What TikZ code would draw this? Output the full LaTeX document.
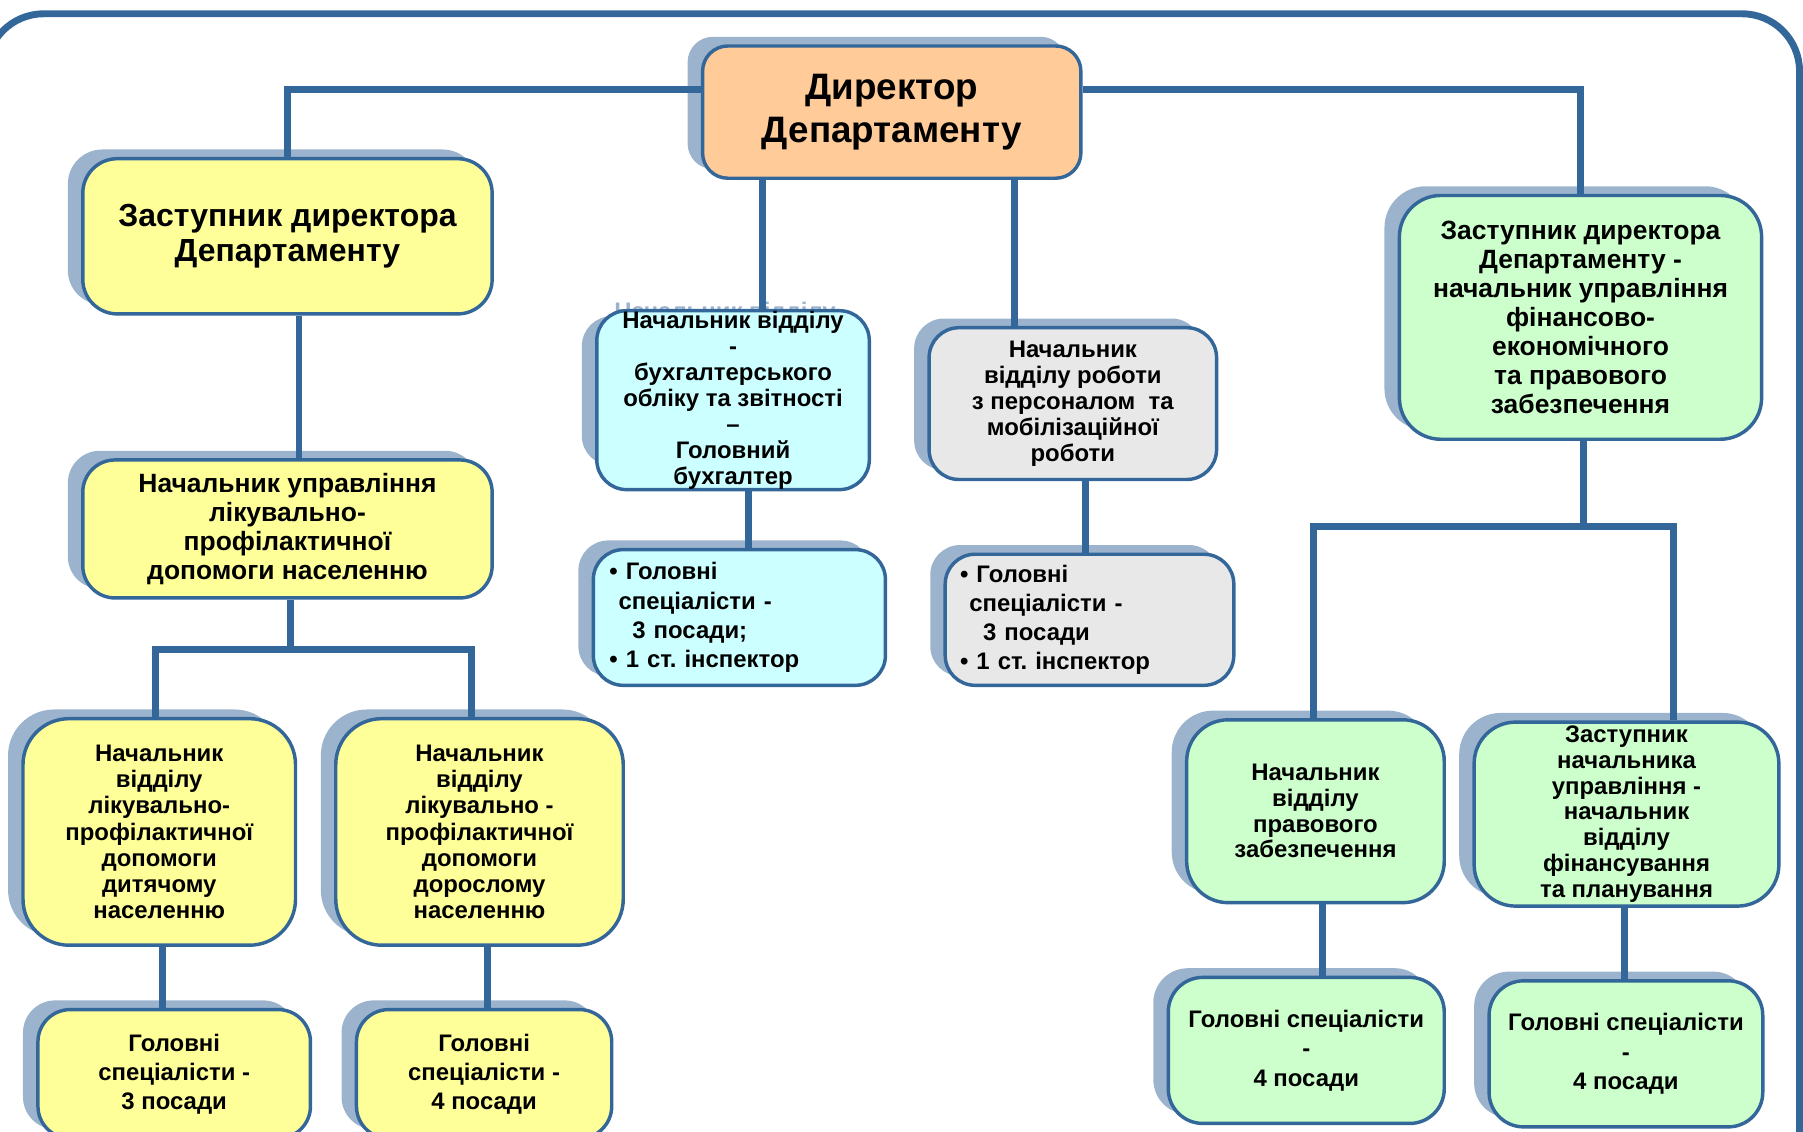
\documentclass[tikz,border=0pt]{standalone}
\usepackage{fontspec}
\setmainfont{Liberation Sans}
\frenchspacing
\definecolor{linec}{HTML}{336699}
\definecolor{shadowc}{HTML}{9BB3CD}
\definecolor{yellowc}{HTML}{FFFF99}
\definecolor{orangec}{HTML}{FFCC99}
\definecolor{cyanc}{HTML}{CCFFFF}
\definecolor{grayc}{HTML}{E8E8E8}
\definecolor{greenc}{HTML}{CCFFCC}
\newcommand\fs[2]{\bfseries\fontsize{#1}{#2}\selectfont}
\newcommand\shbox[6]{%
  \fill[shadowc, rounded corners=#6] ({#2-#4/2-13},{#3-#5/2-8}) rectangle ({#2+#4/2-13},{#3+#5/2-8});}
\tikzset{
  box/.style={draw=linec, line width=3pt, rounded corners=#1, inner sep=0pt, align=center, text=black},
  box/.default=28pt,
  conn/.style={draw=linec, line width=6pt},
}
\begin{document}
\begin{tikzpicture}[x=1pt,y=-1pt]
\useasboundingbox (0,0) rectangle (1568,984);
% frame
\draw[linec, line width=6pt, rounded corners=50pt] (-12,1100) -- (-12,12) -- (1565,12) -- (1565,1100);
\coordinate (j1) at (253,565);
\coordinate (j2) at (1377,458);
% shadows
\shbox{dir}{775.5}{97.5}{329}{115}{22pt}
\shbox{depL}{250}{205.5}{356}{135}{30pt}
\shbox{upr}{250}{460}{356}{120}{28pt}
\shbox{ch1}{138.5}{723.5}{237}{197}{40pt}
\shbox{ch2}{417}{723.5}{250}{197}{40pt}
\shbox{b1}{151.5}{934}{237}{112}{28pt}
\shbox{b2}{421}{934}{222}{112}{28pt}
\shbox{acc}{637.5}{348}{237}{130}{26pt}
\shbox{accs}{643}{537}{254}{118}{26pt}
\shbox{hr}{933}{351}{250}{132}{26pt}
\shbox{hrs}{947.5}{539}{251}{114}{26pt}
\shbox{depR}{1374.5}{276}{315}{212}{36pt}
\shbox{rc1}{1144}{705.5}{224}{159}{36pt}
\shbox{rc2}{1414.5}{708}{265}{160}{36pt}
\shbox{rb1}{1136}{913.5}{240}{127}{30pt}
\shbox{rb2}{1414}{916.5}{238}{127}{30pt}
% ghost text of the accounting box shadow
\node[text=shadowc, align=center, inner sep=0pt, font=\fs{20.8}{22.7}] at (630.5,341) {Начальник відділу\\-\\бухгалтерського\\обліку та звітності\\–\\Головний\\бухгалтер};
% boxes
\node[box=22pt, fill=orangec, minimum width=329pt, minimum height=115pt, font=\fs{32}{37}] (dir) at (775.5,97.5) {\raisebox{3pt}{Директор}\\\raisebox{3pt}{Департаменту}};
\node[box=30pt, fill=yellowc, minimum width=356pt, minimum height=135pt, font=\fs{27.8}{30}] (depL) at (250,205.5) {Заступник директора\\Департаменту};
\node[box=28pt, fill=yellowc, minimum width=356pt, minimum height=120pt, font=\fs{23}{25}] (upr) at (250,460) {Начальник управління\\лікувально-\\профілактичної\\допомоги населенню};
\node[box=40pt, fill=yellowc, minimum width=237pt, minimum height=197pt, font=\fs{20.8}{22.8}] (ch1) at (138.5,723.5) {Начальник\\відділу\\лікувально-\\профілактичної\\допомоги\\дитячому\\населенню};
\node[box=40pt, fill=yellowc, minimum width=250pt, minimum height=197pt, font=\fs{20.8}{22.8}] (ch2) at (417,723.5) {Начальник\\відділу\\лікувально -\\профілактичної\\допомоги\\дорослому\\населенню};
\node[box=28pt, fill=yellowc, minimum width=237pt, minimum height=112pt, font=\fs{20.8}{25}] (b1) at (151.5,934) {Головні\\спеціалісти -\\3 посади};
\node[box=28pt, fill=yellowc, minimum width=222pt, minimum height=112pt, font=\fs{20.8}{25}] (b2) at (421,934) {Головні\\спеціалісти -\\4 посади};
\node[box=26pt, fill=cyanc, minimum width=237pt, minimum height=130pt, font=\fs{20.8}{22.7}] (acc) at (637.5,348) {Начальник відділу\\-\\бухгалтерського\\обліку та звітності\\–\\Головний\\бухгалтер};
\node[box=26pt, fill=cyanc, minimum width=254pt, minimum height=118pt, text width=226pt, inner xsep=14pt, align=left, font=\fs{20.8}{25.5}] (accs) at (643,537) {• Головні\\\hspace*{8pt}спеціалісти -\\\hspace*{20pt}3 посади;\\• 1 ст. інспектор};
\node[box=26pt, fill=grayc, minimum width=250pt, minimum height=132pt, font=\fs{20.8}{22.75}] (hr) at (933,351) {Начальник\\відділу роботи\\з персоналом\ \ та\\мобілізаційної\\роботи};
\node[box=26pt, fill=grayc, minimum width=251pt, minimum height=114pt, text width=225pt, inner xsep=13pt, align=left, font=\fs{20.8}{25.3}] (hrs) at (947.5,539) {• Головні\\\hspace*{8pt}спеціалісти -\\\hspace*{20pt}3 посади\\• 1 ст. інспектор};
\node[box=36pt, fill=greenc, minimum width=315pt, minimum height=212pt, font=\fs{23}{25.2}] (depR) at (1374.5,276) {Заступник директора\\Департаменту -\\начальник управління\\фінансово-\\економічного\\та правового\\забезпечення};
\node[box=36pt, fill=greenc, minimum width=224pt, minimum height=159pt, font=\fs{20.8}{22.4}] (rc1) at (1144,705.5) {Начальник\\відділу\\правового\\забезпечення};
\node[box=36pt, fill=greenc, minimum width=265pt, minimum height=160pt, font=\fs{20.8}{22.5}] (rc2) at (1414.5,708) {Заступник\\начальника\\управління -\\начальник\\відділу\\фінансування\\та планування};
\node[box=30pt, fill=greenc, minimum width=240pt, minimum height=127pt, font=\fs{20.8}{25.5}] (rb1) at (1136,913.5) {Головні спеціалісти\\-\\4 посади};
\node[box=30pt, fill=greenc, minimum width=238pt, minimum height=127pt, font=\fs{20.8}{25.5}] (rb2) at (1414,916.5) {Головні спеціалісти\\-\\4 посади};
% connectors
\draw[conn] ([yshift=19.5pt]dir.west) -| (depL.north);
\draw[conn] ([yshift=19.5pt]dir.east) -| (depR.north);
\draw[conn] ([xshift=-112.5pt]dir.south) -- ([xshift=25.5pt]acc.north);
\draw[conn] ([xshift=106.5pt]dir.south) -- ([xshift=-51pt]hr.north);
\draw[conn] ([xshift=10pt]depL.south) -- ([xshift=10pt]upr.north);
\draw[conn] ([xshift=3pt]upr.south) -- (j1);
\draw[conn] ([xshift=-3.5pt]ch1.north) |- (j1) -| ([xshift=-7pt]ch2.north);
\draw[conn] ([xshift=2.5pt]ch1.south) -- ([xshift=-10.5pt]b1.north);
\draw[conn] ([xshift=7pt]ch2.south) -- ([xshift=3pt]b2.north);
\draw[conn] ([xshift=13.5pt]acc.south) -- ([xshift=8pt]accs.north);
\draw[conn] ([xshift=11pt]hr.south) -- ([xshift=-3.5pt]hrs.north);
\draw[conn] ([xshift=2.5pt]depR.south) -- (j2);
\draw[conn] ([xshift=-2pt]rc1.north) |- (j2) -| ([xshift=40.5pt]rc2.north);
\draw[conn] ([xshift=6pt]rc1.south) -- ([xshift=14pt]rb1.north);
\draw[conn] ([xshift=-1.5pt]rc2.south) -- ([xshift=-1pt]rb2.north);
\end{tikzpicture}
\end{document}
